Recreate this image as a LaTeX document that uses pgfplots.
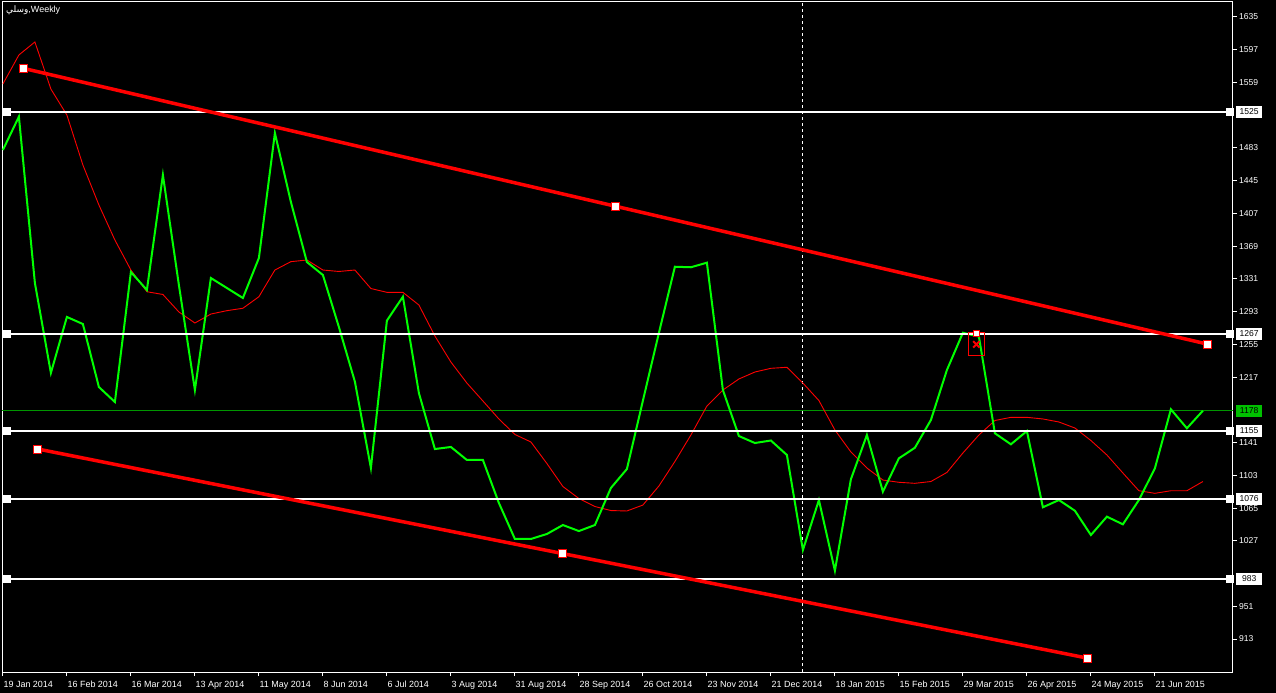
\documentclass[border=0pt]{standalone}
\usepackage{pgfplots}
\pgfplotsset{compat=1.18}
\usepackage{pgfplotstable}
\usepackage{fontspec}
\setmainfont{Liberation Sans}
\newfontfamily\arabicfont[Script=Arabic]{DejaVu Sans}
\TeXXeTstate=1
\definecolor{lime}{RGB}{0,255,0}
\definecolor{mtred}{RGB}{255,0,0}
\definecolor{lvlgreen}{RGB}{0,150,0}
\definecolor{boxgreen}{RGB}{0,192,0}

\pgfplotstableread{
i close ma
0 1480.6 1557.2
1 1519.3 1590.9
2 1326.2 1606.0
3 1221.8 1551.4
4 1286.8 1521.2
5 1278.6 1463.2
6 1205.5 1416.8
7 1188.1 1376.1
8 1339.0 1341.3
9 1318.1 1316.1
10 1451.6 1312.9
11 1323.9 1292.6
12 1202.0 1279.8
13 1332.0 1290.2
14 1320.4 1294.1
15 1308.8 1296.9
16 1355.2 1310.3
17 1500.3 1341.3
18 1420.3 1351.0
19 1350.6 1352.9
20 1335.5 1341.3
21 1275.2 1339.6
22 1211.7 1341.3
23 1111.5 1319.8
24 1282.5 1315.4
25 1310.3 1315.4
26 1198.5 1300.7
27 1133.5 1264.7
28 1135.9 1234.5
29 1120.8 1210.1
30 1120.8 1189.3
31 1070.9 1168.4
32 1029.1 1150.4
33 1029.1 1141.7
34 1034.9 1116.7
35 1045.3 1090.0
36 1038.3 1076.1
37 1045.3 1066.8
38 1088.3 1062.1
39 1110.3 1061.6
40 1189.6 1068.5
41 1268.2 1090.6
42 1345.1 1119.0
43 1344.5 1149.8
44 1349.8 1183.4
45 1202.0 1202.0
46 1148.6 1214.8
47 1140.5 1222.9
48 1143.4 1227.2
49 1126.6 1228.4
50 1016.3 1210.1
51 1074.3 1189.8
52 992.3 1155.6
53 1098.4 1130.1
54 1149.8 1111.5
55 1084.0 1097.5
56 1122.7 1094.9
57 1135.0 1093.7
58 1167.2 1095.8
59 1225.2 1106.3
60 1268.5 1128.9
61 1264.0 1149.8
62 1151.8 1166.6
63 1139.0 1170.3
64 1154.4 1170.3
65 1065.9 1168.4
66 1074.3 1164.9
67 1061.9 1157.9
68 1033.7 1143.4
69 1055.0 1126.6
70 1046.1 1105.7
71 1074.3 1085.1
72 1111.1 1082.1
73 1179.6 1085.1
74 1157.6 1085.1
75 1178.0 1095.8
}\price

\begin{document}
\begin{tikzpicture}
\fill[black] (-2bp,-21bp) rectangle (1274bp,672bp);
\begin{axis}[
  at={(0,0)}, anchor=south west,
  scale only axis, width=1231bp, height=670bp,
  xmin=-0.056, xmax=76.88, ymin=874.7, ymax=1652.4,
  clip mode=individual,
  axis line style={white, line width=1bp},
  axis background/.style={fill=black},
  ytick pos=right, yticklabel pos=right,
  xtick pos=bottom,
  tick align=outside,
  major tick length=4bp,
  tick style={white, line width=1bp},
  ytick={913,951,1027,1065,1103,1141,1217,1255,1293,1331,1369,1407,1445,1483,1559,1597,1635},
  yticklabel style={text=white, font=\fontsize{8.6}{10}\selectfont, anchor=west, inner sep=0pt, xshift=2bp},
  /pgf/number format/assume math mode=true,
  /pgf/number format/1000 sep={},
  xtick={0,4,...,72},
  xticklabels={19 Jan 2014,16 Feb 2014,16 Mar 2014,13 Apr 2014,11 May 2014,8 Jun 2014,6 Jul 2014,3 Aug 2014,31 Aug 2014,28 Sep 2014,26 Oct 2014,23 Nov 2014,21 Dec 2014,18 Jan 2015,15 Feb 2015,29 Mar 2015,26 Apr 2015,24 May 2015,21 Jun 2015},
  xticklabel style={text=white, font=\fontsize{9}{10}\selectfont, anchor=north west, inner sep=0pt, text height=7bp, text depth=2bp, xshift=0.5bp, yshift=-4.5bp},
]
% green level line
\addplot[lvlgreen, line width=1bp] coordinates {(-0.056,1178) (76.88,1178)};
% vertical dashed separator
\addplot[white, line width=1bp, dash pattern=on 3bp off 3bp] coordinates {(50,874.7) (50,1652.4)};
% moving average
\addplot[mtred, line width=0.9bp] table[x=i, y=ma] {\price};
% close
\addplot[lime, line width=2bp] table[x=i, y=close] {\price};
% horizontal levels
\addplot[white, line width=2bp] coordinates {(-0.056,1525) (76.88,1525)};
\addplot[white, line width=2bp] coordinates {(-0.056,1267) (76.88,1267)};
\addplot[white, line width=2bp] coordinates {(-0.056,1155) (76.88,1155)};
\addplot[white, line width=2bp] coordinates {(-0.056,1076) (76.88,1076)};
\addplot[white, line width=2bp] coordinates {(-0.056,983) (76.88,983)};
\addplot[only marks, mark=square*, mark size=3.5bp, white] coordinates {
  (0.21,1525) (76.66,1525) (0.21,1267) (76.66,1267) (0.21,1155) (76.66,1155)
  (0.21,1076) (76.66,1076) (0.21,983) (76.66,983)};
% trend channel
\addplot[mtred, line width=3.5bp] coordinates {(1.275,1575.4) (75.26,1255.4)};
\addplot[mtred, line width=3.5bp] coordinates {(2.19,1133.5) (67.76,890.9)};
\addplot[only marks, mark=square*, mark size=4bp, mark options={fill=white, draw=mtred, line width=1bp}] coordinates {
  (1.275,1575.4) (38.26,1415.4) (75.26,1255.4) (2.19,1133.5) (34.98,1012.2) (67.76,890.9)};
% sell marker
\addplot[mtred, line width=1bp] coordinates {(60.34,1268.5) (61.34,1268.5) (61.34,1241.5) (60.34,1241.5) (60.34,1268.5)};
\addplot[only marks, mark=x, mark size=4.5bp, mtred, line width=2bp] coordinates {(60.84,1255)};
\addplot[only marks, mark=square*, mark size=3bp, mark options={fill=white, draw=mtred, line width=1bp}] coordinates {(60.84,1268)};
% price labels on the right
\foreach \v in {1525,1267,1155,1076,983}{
  \edef\temp{\noexpand\node[fill=white, text=black, inner sep=0pt, minimum width=26bp, minimum height=12bp, anchor=west, font=\noexpand\fontsize{8.6}{10}\noexpand\selectfont] at (axis cs:76.88,\v) [xshift=3bp] {\v};}
  \temp
}
\node[fill=boxgreen, text=black, inner sep=0pt, minimum width=26bp, minimum height=12bp, anchor=west, font=\fontsize{8.6}{10}\selectfont] at (axis cs:76.88,1178) [xshift=3bp] {1178};
% title
\node[anchor=north west, text=white, inner sep=0pt, font=\fontsize{9}{10}\selectfont] at (rel axis cs:0,1) [xshift=4bp, yshift=-3bp] {{\arabicfont\beginR وسلي\endR},Weekly};
\end{axis}
\end{tikzpicture}
\end{document}
